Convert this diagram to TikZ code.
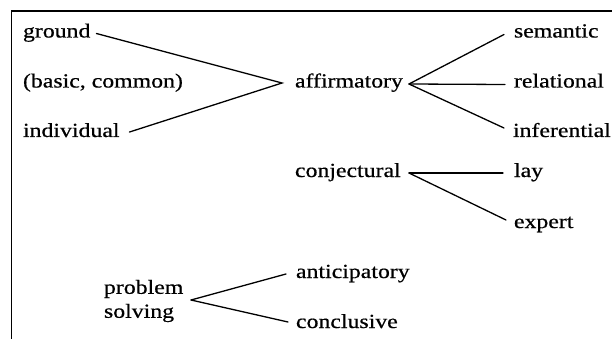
\documentclass[tikz,border=0pt]{standalone}
\usepackage{fontspec}
\setmainfont{Liberation Serif}[FakeStretch=1.19,FakeBold=0.6]
\begin{document}
\begin{tikzpicture}[x=1pt,y=-1pt,
  lbl/.style={anchor=base west, inner sep=0pt, outer sep=0pt,
    font=\fontsize{20}{24}\selectfont, text height=14pt, text depth=4pt},
  conn/.style={line width=1.3pt, black, line cap=round},
  frame/.style={line width=1.6pt, black}]
\useasboundingbox (0,0) rectangle (612,339);
\draw[frame] (612,11) -- (11.5,11) -- (11.5,339);
\node[lbl] (ground) at (23,37.5) {ground};
\node[lbl] (basic) at (23,87.5) {(basic, common)};
\node[lbl] (indiv) at (23,137) {individual};
\node[lbl] (affirm) at (295,87.5) {affirmatory};
\node[lbl] (sem) at (514,37.5) {semantic};
\node[lbl] (rel) at (514,87.5) {relational};
\node[lbl] (inf) at (513,137) {inferential};
\node[lbl] (conj) at (295,177) {conjectural};
\node[lbl] (lay) at (514,177) {lay};
\node[lbl] (exp) at (514,228) {expert};
\node[lbl] (antic) at (296,278) {anticipatory};
\node[lbl] (concl) at (296,328) {conclusive};
\node[lbl, align=left, anchor=west, text height=, text depth=] (ps) at (104,301) {problem\\solving};
\coordinate (aL) at (282,83);
\coordinate (aR) at (409,84);
\coordinate (cR) at (409,173);
\coordinate (pR) at (191,300);
\draw[conn] ([xshift=6pt,yshift=-1pt]ground.east) -- (aL) -- ([xshift=10pt]indiv.east);
\draw[conn] (aR) -- ([xshift=-10pt,yshift=-2pt]sem.west);
\draw[conn] (aR) -- ([xshift=-9pt,yshift=-2pt]rel.west);
\draw[conn] (aR) -- ([xshift=-9pt,yshift=4pt]inf.west);
\draw[conn] (cR) -- ([xshift=-11pt,yshift=-1pt]lay.west);
\draw[conn] (cR) -- ([xshift=-8pt,yshift=3pt]exp.west);
\draw[conn] (pR) -- ([xshift=-10pt,yshift=-1pt]antic.west);
\draw[conn] (pR) -- ([xshift=-8pt,yshift=1pt]concl.west);
\end{tikzpicture}
\end{document}
